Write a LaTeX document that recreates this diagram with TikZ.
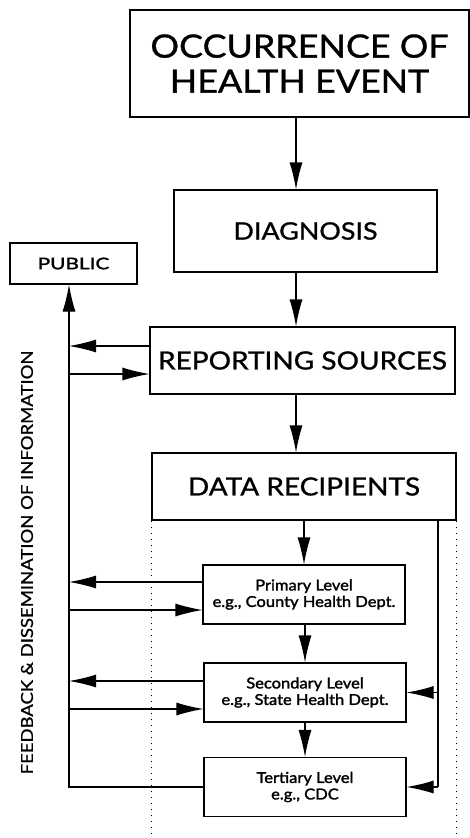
\documentclass[tikz,border=0pt]{standalone}
\usepackage{fontspec}
\setmainfont{Lato}
\newfontfamily\capfont[FakeStretch=1.12,FakeBold=1]{Lato}
\newfontfamily\lvlfont[FakeStretch=1.1,FakeBold=1.8]{Lato}
\newfontfamily\pubfont[FakeStretch=1.3,FakeBold=1.8]{Lato}
\usetikzlibrary{positioning,calc,arrows.meta}
\tikzset{>={Latex[length=27pt,width=13pt]}}
\tikzset{box/.style={draw,line width=1.1pt,inner sep=0pt,align=center}}
\tikzset{flow/.style={->,line width=1.1pt}}
\tikzset{level/.style={box,minimum width=202pt,minimum height=59pt,font=\lvlfont\fontsize{15}{16.5}\selectfont}}
\tikzset{bigbox/.style={box,minimum height=67pt,font=\capfont\fontsize{25}{30}\selectfont}}

\begin{document}
\begin{tikzpicture}[x=1pt,y=-1pt]
\useasboundingbox (0,0) rectangle (470,838);
	% main chain
	\node[box,minimum width=339pt,minimum height=107pt,font=\capfont\fontsize{32}{35}\selectfont] (occ) at (299.5,63.5) {OCCURRENCE OF\\HEALTH EVENT};
	\node[box,minimum width=263pt,minimum height=82pt,font=\capfont\fontsize{24}{28}\selectfont] (diag) at (305.5,231) {DIAGNOSIS};
	\node[bigbox,minimum width=305pt] (rep) at (302.5,360.5) {REPORTING SOURCES};
	\node[bigbox,minimum width=304pt] (recip) at (304,486.5) {DATA RECIPIENTS};
	\node[level] (prim) at (304,594.5) {Primary Level\\e.g., County Health Dept.};
	\node[level] (sec) at (305,692.5) {Secondary Level\\e.g., State Health Dept.};
	\node[level] (tert) at (305,787) {Tertiary Level\\e.g., CDC};
	\node[box,minimum width=127pt,minimum height=41pt,font=\pubfont\fontsize{16}{18}\selectfont] (pub) at (73.5,263.5) {PUBLIC};
	\node[rotate=90,font=\capfont\fontsize{16.5}{20}\selectfont] (fbtext) at (27,562.5) {FEEDBACK \& DISSEMINATION OF INFORMATION};

	\coordinate (spine) at (296,0);
	\coordinate (fb) at (69,0);
	\coordinate (rr) at (438,0);
	\coordinate (bot) at (0,838);

	\draw[flow] (spine |- occ.south) -- (spine |- diag.north);
	\draw[flow] (spine |- diag.south) -- (spine |- rep.north);
	\draw[flow] (spine |- rep.south) -- (spine |- recip.north);
	\draw[flow] (recip.south -| prim.north) -- (prim.north);
	\draw[flow] (prim.south -| sec.north) -- (sec.north);
	\draw[flow] (sec.south) -- (tert.north);

	% feedback loop
	\draw[flow] (tert.west) -- (fb |- tert.west) -- (fb |- pub.south);
	\foreach \b/\u/\d in {rep/14.5/13.5,prim/12.5/15.5,sec/11.5/16.5} {
		\draw[flow] ([yshift=\u pt]\b.west) -- ([yshift=\u pt]\b.west -| fb);
		\draw[flow] ([yshift=-\d pt]\b.west -| fb) -- ([yshift=-\d pt]\b.west);
	}

	% right side
	\draw[line width=1.1pt] (rr |- recip.south) -- (rr |- tert.east);
	\draw[flow] (rr |- sec.east) -- (sec.east);
	\draw[flow] (rr |- tert.east) -- (tert.east);
	\draw[line width=1pt,dash pattern=on 1.5pt off 4.5pt] (recip.south west) -- (recip.south west |- bot);
	\draw[line width=1pt,dash pattern=on 1.5pt off 4.5pt] (recip.south east) -- (recip.south east |- bot);
\end{tikzpicture}
\end{document}
